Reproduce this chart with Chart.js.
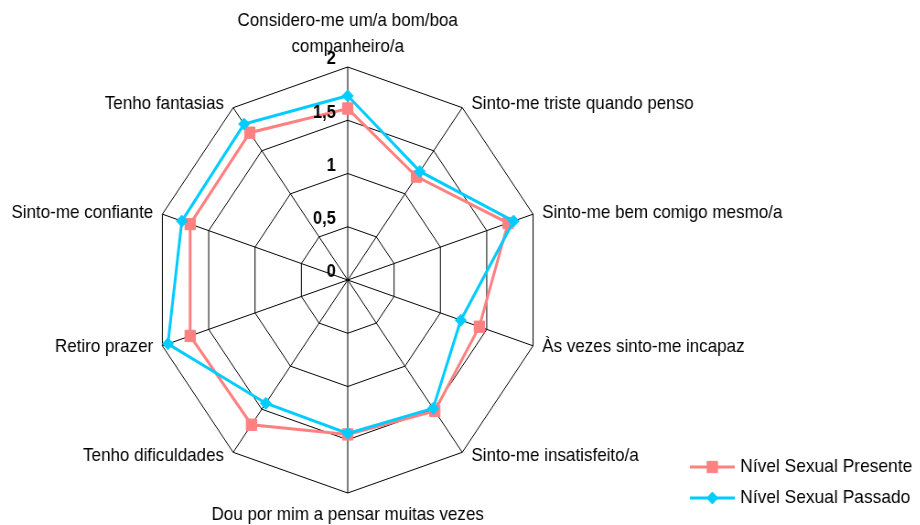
<!DOCTYPE html>
<html>
<head>
<meta charset="utf-8">
<title>Nível Sexual</title>
<script src="https://cdn.jsdelivr.net/npm/chart.js@4.4.1/dist/chart.umd.min.js"></script>
<style>
    html, body { margin: 0; padding: 0; background: #fff; overflow: hidden; }
    /* the original picture is squeezed horizontally, so the whole chart is too */
    #wrap { width: 1006px; height: 525px; transform: scaleX(0.915); transform-origin: 0 0; }
</style>
</head>
<body>
<div id="wrap"><canvas id="radarChart" width="1006" height="525"></canvas></div>
<script>
"use strict";

const categories = [
    ['Considero-me um/a bom/boa', 'companheiro/a'],
    'Sinto-me triste quando penso',
    'Sinto-me bem comigo mesmo/a',
    'Às vezes sinto-me incapaz',
    'Sinto-me insatisfeito/a',
    'Dou por mim a pensar muitas vezes',
    'Tenho dificuldades',
    'Retiro prazer',
    'Sinto-me confiante',
    'Tenho fantasias'
];
const seriesNames = ['Nível Sexual Presente', 'Nível Sexual Passado'];
const presente = [1.61, 1.20, 1.73, 1.42, 1.52, 1.45, 1.68, 1.70, 1.70, 1.71];
const passado = [1.73, 1.26, 1.79, 1.22, 1.49, 1.44, 1.43, 1.94, 1.79, 1.81];
const tickMin = 0, tickMax = 2, tickStep = 0.5;

const FONT = '"Liberation Sans", Arial, sans-serif';
let chart;

// Excel-like labels, axis numbers and legend
const excelBits = {
    id: 'excelBits',
    afterDraw(c) {
        const scale = c.scales.r;
        const ctx = c.ctx;
        const n = c.data.labels.length;
        ctx.save();
        ctx.fillStyle = '#000';

        // category labels
        ctx.font = '18.6px ' + FONT;
        ctx.textBaseline = 'middle';
        c.data.labels.forEach((label, i) => {
            const lines = [].concat(label);
            const p = scale.getPointPosition(i, scale.drawingArea);
            const a = i * 2 * Math.PI / n;
            const sin = Math.sin(a), cos = Math.cos(a);
            let x = p.x, y;
            if (Math.abs(sin) < 0.01) {
                ctx.textAlign = 'center';
                y = cos > 0 ? p.y - 20 - (lines.length - 1) * 26 : p.y + 21.5;
            } else {
                ctx.textAlign = sin > 0 ? 'left' : 'right';
                x += sin > 0 ? 10 : -10;
                y = p.y - 5 * cos;
            }
            lines.forEach((l, k) => ctx.fillText(l, x, y + k * 26));
        });

        // value axis numbers (0 included)
        ctx.font = 'bold 18px ' + FONT;
        ctx.textAlign = 'right';
        scale.ticks.forEach(t => {
            const y = scale.yCenter - scale.getDistanceFromCenterForValue(t.value) - 7.5;
            ctx.fillText(t.label, scale.xCenter - 13, y);
        });

        // legend: line with marker, like Excel
        ctx.font = '19px ' + FONT;
        ctx.textAlign = 'left';
        const rows = [467, 498];
        seriesNames.forEach((name, k) => {
            const ds = c.data.datasets.find(d => d.label === name);
            const y = rows[k];
            ctx.strokeStyle = ds.borderColor;
            ctx.fillStyle = ds.borderColor;
            ctx.lineWidth = 3;
            ctx.beginPath();
            ctx.moveTo(754, y);
            ctx.lineTo(803, y);
            ctx.stroke();
            ctx.lineWidth = 1;
            Chart.helpers.drawPoint(ctx, {
                pointStyle: ds.pointStyle, radius: ds.pointRadius, rotation: 0, borderWidth: 1
            }, 778.5, y);
            ctx.fillStyle = '#000';
            ctx.fillText(name, 809, y);
        });
        ctx.restore();
    }
};

function initChart() {
    const ctx = document.getElementById('radarChart').getContext('2d');
    chart = new Chart(ctx, {
        type: 'radar',
        data: {
            labels: categories,
            datasets: [{
                label: seriesNames[0],
                data: presente,
                order: 1,
                fill: false,
                borderColor: 'rgb(255, 128, 128)',
                backgroundColor: 'rgb(255, 128, 128)',
                borderWidth: 3,
                pointStyle: 'rect',
                pointRadius: 8,
                pointBorderWidth: 1,
                pointBackgroundColor: 'rgb(255, 128, 128)'
            },
            {
                label: seriesNames[1],
                data: passado,
                order: 0,
                fill: false,
                borderColor: 'rgb(0, 204, 255)',
                backgroundColor: 'rgb(0, 204, 255)',
                borderWidth: 3,
                pointStyle: 'rectRot',
                pointRadius: 6,
                pointBorderWidth: 1,
                pointBackgroundColor: 'rgb(0, 204, 255)'
            }]
        },
        options: {
            responsive: false,
            animation: false,
            devicePixelRatio: 1,
            layout: { padding: { left: 167, right: 413, top: 67, bottom: 32 } },
            elements: { line: { tension: 0 } },
            plugins: {
                legend: { display: false },
                tooltip: { enabled: false }
            },
            scales: {
                r: {
                    min: tickMin,
                    max: tickMax,
                    startAngle: 0,
                    ticks: {
                        stepSize: tickStep,
                        display: false,
                        callback: v => String(v).replace('.', ',')
                    },
                    grid: { color: '#000', lineWidth: 1 },
                    angleLines: { color: '#000', lineWidth: 1 },
                    pointLabels: { display: false }
                }
            }
        },
        plugins: [excelBits]
    });
}

initChart();
</script>
</body>
</html>
